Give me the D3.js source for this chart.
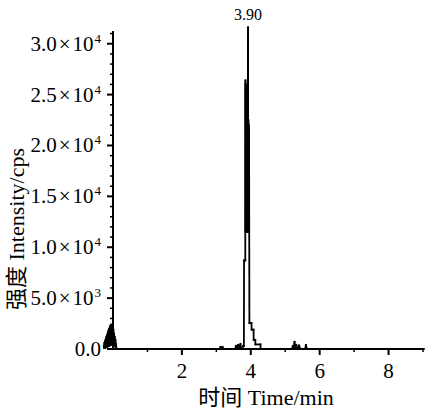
<!DOCTYPE html>
<html>
<head>
<meta charset="utf-8">
<script src="https://cdn.jsdelivr.net/npm/d3@7"></script>
<style>
  body { margin: 0; background: #fff; }
  svg text { fill: #000; }
  .tick-num { font-family: "Liberation Serif", "DejaVu Serif", serif; }
  .title { font-family: "Liberation Serif", "Noto Sans CJK SC", serif; }
</style>
</head>
<body>
<div id="chart"></div>
<script>
// retention time (min) and intensity (cps) of the chromatogram trace
let timeMin = [
  -0.27, -0.26, -0.25, -0.24, -0.23, -0.22, -0.21, -0.20, -0.19, -0.18,
  -0.17, -0.16, -0.15, -0.14, -0.13, -0.12, -0.11, -0.10, -0.09, -0.08,
  -0.07, -0.06, -0.05, -0.04, -0.03, -0.02, -0.01, 0.00, 0.01, 0.02,
  0.03, 0.04, 0.05, 0.06, 0.07, 0.08, 0.09, 0.10,
  3.10, 3.12, 3.18, 3.20, 3.55, 3.57, 3.60, 3.63, 3.66, 3.70, 3.72,
  3.76, 3.78, 3.80, 3.805, 3.84,
  3.845, 3.850, 3.855, 3.860, 3.865, 3.870, 3.875, 3.880, 3.885, 3.890,
  3.895, 3.900, 3.905, 3.910, 3.915, 3.920, 3.925, 3.930, 3.935, 3.940,
  3.945, 3.950, 3.955, 3.96,
  4.02, 4.025, 4.08, 4.085, 4.13, 4.135, 4.28, 4.285,
  5.20, 5.22, 5.24, 5.27, 5.29, 5.32, 5.36, 5.40, 5.44, 5.58, 5.60, 5.63, 9.00
];
let intensity = [
  300, 100, 600, 100, 800, 150, 1000, 200, 1200, 200,
  1400, 250, 1600, 300, 1800, 300, 2000, 350, 2200, 400,
  2300, 400, 2400, 500, 2350, 500, 2200, 600, 1900, 500,
  1500, 400, 1200, 300, 900, 200, 500, 0,
  0, 200, 200, 0, 0, 300, 150, 400, 200, 500, 0,
  0, 300, 300, 8700, 8700,
  26400, 11500, 26000, 11500, 25500, 11800, 25000, 11500, 24500, 12000,
  24000, 11500, 23500, 11800, 23000, 31600, 12000, 22500, 11500, 22000,
  11500, 21500, 11500, 2550,
  2550, 1900, 1900, 900, 900, 450, 450, 0,
  0, 300, 0, 700, 100, 400, 0, 350, 0, 0, 400, 0, 0
];
let xMajorTicks = [2, 4, 6, 8];
let xMinorTicks = [1, 3, 5, 7, 9];
let yMajorTicks = [0, 5000, 10000, 15000, 20000, 25000, 30000];
let yTickMantissa = ["0.0", "5.0", "1.0", "1.5", "2.0", "2.5", "3.0"];
let yTickExponent = ["", "3", "4", "4", "4", "4", "4"];
let peakLabel = { time: 3.92, text: "3.90" };

let width = 443, height = 412;
let margin = { left: 113, right: 20, top: 31, bottom: 63 };

let svg = d3.select("#chart").append("svg")
  .attr("width", width)
  .attr("height", height);

let x = d3.scaleLinear().domain([0, 9]).range([margin.left, width - margin.right]);
let y = d3.scaleLinear().domain([0, 31250]).range([height - margin.bottom, margin.top]);

let yMinorTicks = d3.range(0, 31001, 1000).filter(v => v % 5000 != 0);

// trace, one segment per pair of samples so dense scans fill solid
let points = timeMin.map((t, i) => [t, intensity[i]]);
svg.append("g")
  .selectAll("line")
  .data(d3.pairs(points))
  .enter().append("line")
  .attr("x1", d => x(d[0][0])).attr("y1", d => y(d[0][1]))
  .attr("x2", d => x(d[1][0])).attr("y2", d => y(d[1][1]))
  .attr("stroke", "#000")
  .attr("stroke-width", 1.8)
  .attr("stroke-linecap", "square");

// x axis
let xAxis = svg.append("g").attr("transform", "translate(0," + y(0) + ")");
xAxis.append("line")
  .attr("x1", x(0)).attr("x2", x(9.05))
  .attr("stroke", "#000").attr("stroke-width", 2);
xAxis.selectAll(".xmaj").data(xMajorTicks).enter().append("line")
  .attr("x1", d => x(d)).attr("x2", d => x(d))
  .attr("y1", 0).attr("y2", 6)
  .attr("stroke", "#000").attr("stroke-width", 2);
xAxis.selectAll(".xmin").data(xMinorTicks).enter().append("line")
  .attr("x1", d => x(d)).attr("x2", d => x(d))
  .attr("y1", 0).attr("y2", 3)
  .attr("stroke", "#000").attr("stroke-width", 1.5);
xAxis.selectAll(".xlab").data(xMajorTicks).enter().append("text")
  .attr("class", "tick-num")
  .attr("x", d => x(d)).attr("y", 29)
  .attr("text-anchor", "middle")
  .attr("font-size", 21)
  .text(d => d);

// y axis
let yAxis = svg.append("g").attr("transform", "translate(" + x(0) + ",0)");
yAxis.append("line")
  .attr("y1", y(0)).attr("y2", y(31250))
  .attr("stroke", "#000").attr("stroke-width", 2);
yAxis.selectAll(".ymaj").data(yMajorTicks).enter().append("line")
  .attr("y1", d => y(d)).attr("y2", d => y(d))
  .attr("x1", 0).attr("x2", -6)
  .attr("stroke", "#000").attr("stroke-width", 2);
yAxis.selectAll(".ymin").data(yMinorTicks).enter().append("line")
  .attr("y1", d => y(d)).attr("y2", d => y(d))
  .attr("x1", 0).attr("x2", -3)
  .attr("stroke", "#000").attr("stroke-width", 1.5);
let ylab = yAxis.selectAll(".ylab").data(yMajorTicks).enter().append("text")
  .attr("class", "tick-num")
  .attr("x", -12).attr("y", d => y(d) + 7)
  .attr("text-anchor", "end")
  .attr("font-size", 21);
ylab.append("tspan").text((d, i) => yTickMantissa[i]);
ylab.filter((d, i) => yTickExponent[i] != "").each(function(d, i) {
  let t = d3.select(this);
  let k = yMajorTicks.indexOf(d);
  t.append("tspan").attr("dx", 2).text("×");
  t.append("tspan").attr("dx", 2).text("10");
  t.append("tspan")
    .attr("dx", 1)
    .attr("dy", -8)
    .attr("font-size", 13)
    .text(yTickExponent[k]);
});

// peak label
svg.append("text")
  .attr("class", "tick-num")
  .attr("x", x(peakLabel.time))
  .attr("y", 20)
  .attr("text-anchor", "middle")
  .attr("font-size", 16)
  .text(peakLabel.text);

// axis titles
svg.append("text")
  .attr("class", "title")
  .attr("x", 266).attr("y", 405)
  .attr("text-anchor", "middle")
  .attr("font-size", 22)
  .text("时间 Time/min");

svg.append("text")
  .attr("class", "title")
  .attr("transform", "translate(24,229) rotate(-90)")
  .attr("text-anchor", "middle")
  .attr("font-size", 22)
  .text("强度 Intensity/cps");
</script>
</body>
</html>
